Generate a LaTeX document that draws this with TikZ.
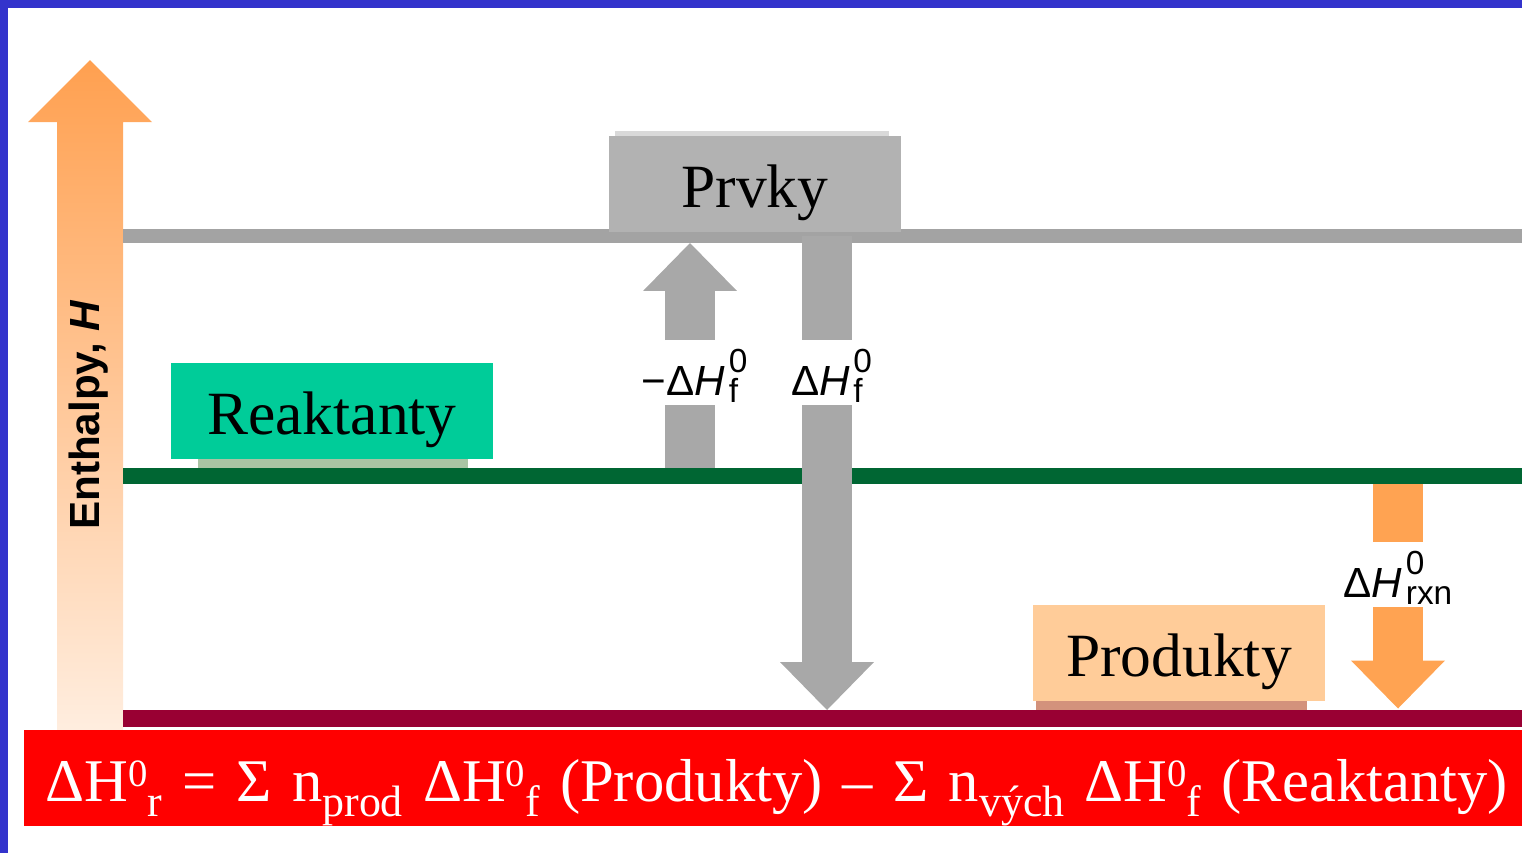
\documentclass[tikz,border=0pt]{standalone}
\usepackage{fontspec}
\setmainfont{Liberation Serif}
\setsansfont{Liberation Sans}
\usetikzlibrary{arrows.meta,positioning,calc}

\definecolor{frameblue}{HTML}{3333CC}
\definecolor{elemgray}{HTML}{A3A3A3}
\definecolor{boxgray}{HTML}{B2B2B2}
\definecolor{arrgray}{HTML}{A8A8A8}
\definecolor{reactgreen}{HTML}{006633}
\definecolor{reactfill}{HTML}{00CC99}
\definecolor{reactstrip}{HTML}{A9C4A4}
\definecolor{prodred}{HTML}{990033}
\definecolor{prodfill}{HTML}{FFCC99}
\definecolor{prodstrip}{HTML}{D3927C}
\definecolor{rxnorange}{HTML}{FFA352}
\definecolor{enthtop}{HTML}{FFA050}
\definecolor{enthbot}{HTML}{FFEEE0}

\newcommand{\subsz}{\fontsize{19}{19}\selectfont}
\newcommand{\dHlbl}[3]{#1Δ\textit{H}\hspace{2pt}\rlap{\raisebox{13pt}{\subsz #2}}\raisebox{-4.5pt}{\subsz #3}}
\newcommand{\equp}[1]{\raisebox{9pt}{\fontsize{22}{22}\selectfont #1}}
\newcommand{\eqdn}[1]{\raisebox{-8.5pt}{\fontsize{25}{25}\selectfont #1}}

\begin{document}
\begin{tikzpicture}[x=0.02cm, y=-0.02cm,
    elemlevel/.style={draw=elemgray, line width=0.28cm},
    reactlevel/.style={draw=reactgreen, line width=0.32cm},
    prodlevel/.style={draw=prodred, line width=0.34cm},
    statebox/.style={minimum height=1.92cm, inner sep=0pt, font=\fontsize{35}{35}\selectfont, text height=27pt, text depth=0pt},
    dlabel/.style={anchor=base, inner sep=0pt, text height=31pt, text depth=5.5pt, font=\sffamily\fontsize{24}{24}\selectfont},
    shaft/.style={line width=1cm},
    blockarr/.style={shaft, -{Triangle[length=0.96cm, width=1.88cm, line width=0pt]}}
]
\useasboundingbox (0,0) rectangle (1522,853);

% frame
\fill[frameblue] (0,0) rectangle (1522,8);
\fill[frameblue] (0,0) rectangle (8,853);

% enthalpy axis
\shade[top color=enthtop, bottom color=enthbot] (90,60) -- (152,122) -- (123,122) -- (123,735) -- (57,735) -- (57,122) -- (28,122) -- cycle;
\node[rotate=90, font=\sffamily\bfseries\fontsize{24}{24}\selectfont] (enth) at (89,415) {Enthalpy, \textit{H}};

% levels
\coordinate (elemL) at (123,236);
\coordinate (elemR) at (1522,236);
\coordinate (reactL) at (123,476);
\coordinate (reactR) at (1522,476);
\coordinate (prodL) at (123,718.5);
\coordinate (prodR) at (1522,718.5);

% labels on the arrows
\node[dlabel] (negf) at (690,395) {\dHlbl{−}{0}{f}};
\node[dlabel] (posf) at (827,395) {\dHlbl{}{0}{f}};
\node[dlabel] (rxn) at (1398,597) {\dHlbl{}{0}{rxn}};

\draw[shaft, arrgray] (negf.south) -- (negf.south |- reactL);

\draw[elemlevel] (elemL) -- (elemR);
\draw[reactlevel] (reactL) -- (reactR);
\draw[prodlevel] (prodL) -- (prodR);

% strips under the boxes
\fill[black!15] (615,131) rectangle (889,136);
\fill[reactstrip] (198,459) rectangle (468,468);
\fill[prodstrip] (1036,701) rectangle (1307,710);

% states
\node[statebox, fill=boxgray, minimum width=5.84cm] (prvky) at (755,184) {Prvky};
\node[statebox, fill=reactfill, minimum width=6.44cm] (reakt) at (332,411) {Reaktanty};
\node[statebox, fill=prodfill, minimum width=5.84cm] (produkt) at (1179,653) {Produkty};

% arrows
\draw[blockarr, arrgray] (negf.north) -- ($(negf.north |- elemL)+(0,7)$);
\draw[shaft, arrgray] (posf.north |- elemL) -- (posf.north);
\draw[blockarr, arrgray] (posf.south) -- ($(posf.south |- prodL)+(0,-8.5)$);
\draw[shaft, rxnorange] ($(rxn.north |- reactL)+(0,8)$) -- (rxn.north);
\draw[blockarr, rxnorange] (rxn.south) -- ($(rxn.south |- prodL)+(0,-10)$);

% formula
\node[fill=red, anchor=west, text width=29.12cm, inner xsep=0.42cm, inner ysep=0pt, text height=41pt, text depth=13.7pt, align=left, text=white, font=\fontsize{34.5}{35}\selectfont] (eq) at (24,778)
  {\mbox{ΔH\equp{0}\eqdn{r} = Σ n\eqdn{prod} ΔH\equp{0}\eqdn{f} (Produkty) – Σ n\eqdn{vých} ΔH\equp{0}\eqdn{f} (Reaktanty)}};
\end{tikzpicture}
\end{document}
